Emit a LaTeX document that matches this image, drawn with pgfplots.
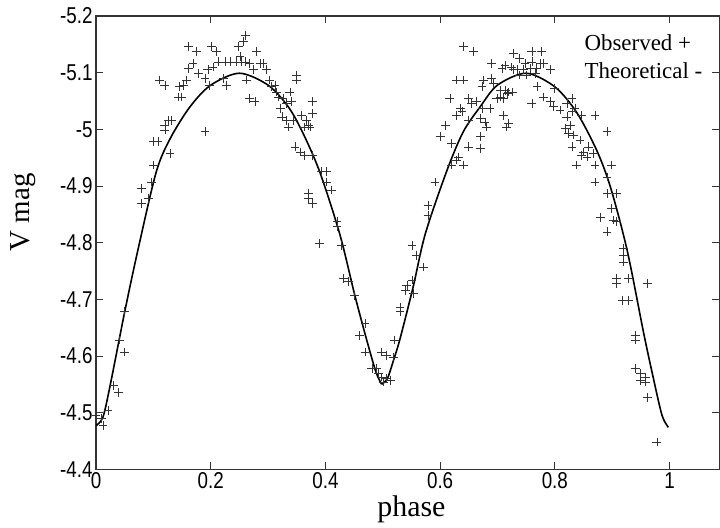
\documentclass[border=0pt]{standalone}
\usepackage{fontspec}
\setmainfont{Liberation Serif}
\newfontfamily\ticksf{Liberation Sans}[FakeStretch=0.82]
\usepackage{pgfplots}
\pgfplotsset{compat=1.18}
\usetikzlibrary{calc}

\pgfplotstableread{
x y
0.000 -4.495
0.009 -4.489
0.012 -4.477
0.021 -4.504
0.030 -4.548
0.039 -4.536
0.041 -4.628
0.050 -4.607
0.050 -4.678
0.079 -4.896
0.079 -4.869
0.091 -4.878
0.097 -4.907
0.100 -4.937
0.100 -4.978
0.108 -4.978
0.129 -4.957
0.120 -4.999
0.120 -5.007
0.126 -5.016
0.132 -5.016
0.111 -5.087
0.120 -5.078
0.146 -5.075
0.143 -5.057
0.149 -5.057
0.152 -5.078
0.158 -5.087
0.161 -5.146
0.175 -5.137
0.169 -5.116
0.161 -5.108
0.178 -5.099
0.190 -5.090
0.198 -5.078
0.190 -4.996
0.201 -5.146
0.210 -5.137
0.195 -5.105
0.204 -5.110
0.213 -5.119
0.225 -5.119
0.234 -5.119
0.245 -5.119
0.254 -5.119
0.260 -5.119
0.222 -5.090
0.228 -5.078
0.248 -5.146
0.257 -5.155
0.260 -5.166
0.251 -5.128
0.262 -5.087
0.268 -5.116
0.274 -5.105
0.280 -5.137
0.286 -5.116
0.291 -5.116
0.297 -5.105
0.303 -5.087
0.312 -5.078
0.268 -5.054
0.277 -5.049
0.306 -5.075
0.315 -5.066
0.318 -5.057
0.326 -5.054
0.338 -5.066
0.332 -5.046
0.341 -5.049
0.321 -5.037
0.324 -5.022
0.332 -5.016
0.335 -5.004
0.344 -5.016
0.350 -5.096
0.350 -5.087
0.358 -5.025
0.367 -5.016
0.378 -5.049
0.378 -5.028
0.364 -5.004
0.373 -5.004
0.370 -5.007
0.347 -4.969
0.356 -4.960
0.364 -4.954
0.378 -4.954
0.393 -4.925
0.402 -4.925
0.402 -4.907
0.411 -4.893
0.370 -4.887
0.370 -4.878
0.378 -4.869
0.420 -4.837
0.420 -4.828
0.390 -4.798
0.428 -4.795
0.431 -4.737
0.440 -4.731
0.451 -4.707
0.469 -4.657
0.460 -4.636
0.469 -4.607
0.481 -4.578
0.489 -4.578
0.492 -4.569
0.498 -4.563
0.501 -4.554
0.507 -4.560
0.513 -4.557
0.498 -4.607
0.507 -4.601
0.518 -4.598
0.521 -4.628
0.530 -4.686
0.530 -4.678
0.542 -4.725
0.539 -4.716
0.551 -4.734
0.553 -4.710
0.551 -4.795
0.559 -4.778
0.571 -4.757
0.579 -4.866
0.579 -4.848
0.591 -4.907
0.620 -4.937
0.629 -4.946
0.641 -4.937
0.632 -4.951
0.609 -5.007
0.600 -4.987
0.620 -4.975
0.670 -4.987
0.649 -4.969
0.670 -4.966
0.617 -5.054
0.649 -5.054
0.655 -5.046
0.663 -5.049
0.673 -5.037
0.687 -5.037
0.635 -5.037
0.638 -5.031
0.629 -5.025
0.649 -5.016
0.670 -5.019
0.678 -5.013
0.681 -5.004
0.710 -5.025
0.716 -5.004
0.629 -5.087
0.641 -5.087
0.641 -5.146
0.658 -5.137
0.690 -5.116
0.708 -5.108
0.728 -5.134
0.728 -5.105
0.675 -5.087
0.690 -5.090
0.693 -5.081
0.673 -5.075
0.705 -5.069
0.714 -5.069
0.705 -5.057
0.699 -5.054
0.710 -5.054
0.719 -5.066
0.760 -5.137
0.777 -5.137
0.739 -5.125
0.748 -5.116
0.760 -5.119
0.774 -5.116
0.713 -5.113
0.725 -5.110
0.734 -5.105
0.745 -5.105
0.757 -5.108
0.768 -5.108
0.792 -5.105
0.780 -5.116
0.739 -5.096
0.751 -5.096
0.766 -5.099
0.726 -5.066
0.717 -5.063
0.719 -5.010
0.769 -5.075
0.760 -5.046
0.780 -5.057
0.792 -5.049
0.800 -5.072
0.798 -5.040
0.809 -5.034
0.821 -5.046
0.830 -5.054
0.821 -5.022
0.830 -5.031
0.835 -5.037
0.847 -5.025
0.870 -5.025
0.891 -4.996
0.818 -5.002
0.827 -5.007
0.824 -4.993
0.832 -4.990
0.830 -4.969
0.844 -4.981
0.850 -4.960
0.859 -4.969
0.867 -4.957
0.856 -4.951
0.847 -4.954
0.838 -4.937
0.870 -4.937
0.899 -4.937
0.870 -4.907
0.891 -4.916
0.891 -4.887
0.908 -4.887
0.899 -4.860
0.879 -4.845
0.902 -4.840
0.908 -4.837
0.891 -4.819
0.920 -4.790
0.920 -4.778
0.920 -4.766
0.908 -4.737
0.908 -4.728
0.928 -4.737
0.961 -4.728
0.917 -4.698
0.928 -4.698
0.940 -4.636
0.940 -4.628
0.940 -4.578
0.949 -4.569
0.958 -4.563
0.949 -4.557
0.958 -4.554
0.961 -4.527
0.978 -4.448
}\observed

% theoretical curve, first half (up to the minimum)
\pgfplotstableread{
x y
0.000 -4.477
0.012 -4.492
0.024 -4.545
0.050 -4.678
0.073 -4.787
0.105 -4.925
0.130 -4.985
0.164 -5.040
0.200 -5.078
0.250 -5.099
0.300 -5.078
0.335 -5.040
0.360 -4.995
0.390 -4.925
0.425 -4.815
0.451 -4.708
0.472 -4.628
0.488 -4.572
0.498 -4.550
}\theoA

% theoretical curve, second half
\pgfplotstableread{
x y
0.498 -4.550
0.508 -4.560
0.518 -4.590
0.530 -4.630
0.553 -4.722
0.574 -4.815
0.611 -4.925
0.640 -4.995
0.670 -5.040
0.700 -5.078
0.750 -5.099
0.800 -5.075
0.838 -5.030
0.873 -4.963
0.897 -4.898
0.926 -4.787
0.955 -4.640
0.972 -4.560
0.987 -4.495
0.998 -4.474
}\theoB

\begin{document}
\begin{tikzpicture}
\begin{axis}[
    scale only axis,
    width=623bp, height=453bp,
    xmin=0, xmax=1.087,
    ymin=-5.2, ymax=-4.4,
    y dir=reverse,
    xtick={0,0.2,0.4,0.6,0.8,1},
    xticklabels={0,0.2,0.4,0.6,0.8,1},
    ytick={-5.2,-5.1,-5,-4.9,-4.8,-4.7,-4.6,-4.5,-4.4},
    yticklabels={-5.2,-5.1,-5,-4.9,-4.8,-4.7,-4.6,-4.5,-4.4},
    tick align=inside,
    major tick length=7bp,
    axis line style={black!80, line width=1.2bp},
    tick style={black!80, line width=0.8bp},
    ticklabel style={font=\ticksf\fontsize{23}{23}\selectfont},
    xlabel={phase},
    ylabel={V mag},
    xlabel style={font=\fontsize{30}{30}\selectfont, at={(axis description cs:0.506,-0.104)}, anchor=base},
    ylabel style={font=\fontsize{29}{29}\selectfont, at={(axis description cs:-0.117,0.567)}, anchor=center},
    clip=false,
]
    \addplot[only marks, mark=+, mark size=4.4bp, black!80, mark options={line width=0.7bp}] table {\observed};
    \addplot[black, line width=1.6bp, smooth, tension=0.5] table {\theoA};
    \addplot[black, line width=1.6bp, smooth, tension=0.5] table {\theoB};
    \node[anchor=base west, font=\fontsize{23}{23}\selectfont] at (axis description cs:0.778,0.925) {Observed +};
    \node[anchor=base west, font=\fontsize{23}{23}\selectfont] at (axis description cs:0.778,0.863) {Theoretical -};
\end{axis}
\pgfresetboundingbox
\path ($(current axis.south west)+(-96bp,-58bp)$) rectangle ($(current axis.north east)+(0.6bp,16bp)$);
\end{tikzpicture}
\end{document}
